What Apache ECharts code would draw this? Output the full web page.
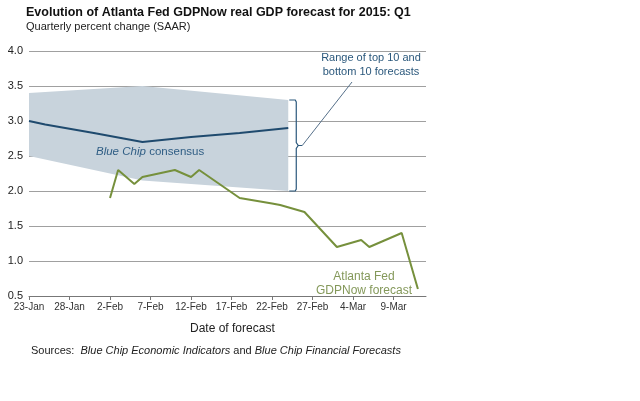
<!DOCTYPE html>
<html>
<head>
<meta charset="utf-8">
<script src="https://cdn.jsdelivr.net/npm/echarts@6/dist/echarts.min.js"></script>
<style>
html,body{margin:0;padding:0;background:#fff;}
#c{width:640px;height:401px;}
</style>
</head>
<body>
<div id="c"></div>
<script>
// Days counted from 23-Jan-2015
const xTickDays = [0, 5, 10, 15, 20, 25, 30, 35, 40, 45];
const yTicks = [0.5, 1.0, 1.5, 2.0, 2.5, 3.0, 3.5, 4.0];

const gdpNowDays   = [10, 11, 13, 14, 16, 18, 20, 21, 26, 30, 31, 34, 38, 41, 42, 46, 48];
const gdpNowValues = [1.9, 2.3, 2.1, 2.2, 2.25, 2.3, 2.2, 2.3, 1.9, 1.82, 1.8, 1.7, 1.2, 1.3, 1.2, 1.4, 0.6];

const consensusDays   = [0, 2, 8, 14, 20, 26, 32];
const consensusValues = [3.0, 2.95, 2.83, 2.70, 2.77, 2.83, 2.90];

const bandDays = [0, 14, 32];
const bandHigh = [3.4, 3.5, 3.3];
const bandLow  = [2.5, 2.15, 2.0];

const months = ['Jan','Feb','Mar','Apr','May','Jun','Jul','Aug','Sep','Oct','Nov','Dec'];
function dayLabel(v){
  const d = new Date(Date.UTC(2015,0,23) + v*86400000);
  return d.getUTCDate() + '-' + months[d.getUTCMonth()];
}

const FONT = 'Liberation Sans, Arial, sans-serif';
const chart = echarts.init(document.getElementById('c'), null, {renderer:'canvas'});

const bandPoly = bandDays.map((d,i)=>[d,bandHigh[i]]).concat(bandDays.map((d,i)=>[d,bandLow[i]]).reverse());

chart.setOption({
  animation:false,
  backgroundColor:'#fff',
  textStyle:{fontFamily:FONT},
  grid:{left:29, right:214, top:51, bottom:105},
  xAxis:{
    type:'value', min:0, max:49, interval:5,
    axisLine:{show:true, lineStyle:{color:'#777', width:1}},
    axisTick:{show:true, length:4, lineStyle:{color:'#777'}},
    splitLine:{show:false},
    axisLabel:{formatter:dayLabel, color:'#333', fontSize:10, margin:6, fontFamily:FONT,
      showMaxLabel:false}
  },
  yAxis:{
    type:'value', min:0.5, max:4.0, interval:0.5,
    axisLine:{show:false}, axisTick:{show:false},
    splitLine:{lineStyle:{color:'#a0a0a0', width:1}},
    axisLabel:{formatter:v=>v.toFixed(1), color:'#222', fontSize:11, margin:6, fontFamily:FONT}
  },
  series:[
    {
      type:'custom', z:1, silent:true,
      data:[0],
      renderItem:function(params, api){
        const pts = bandPoly.map(p=>api.coord(p));
        return {type:'polygon', shape:{points:pts}, style:{fill:'#c8d3dc', stroke:null}};
      }
    },
    {
      type:'line', z:3, symbol:'none',
      data:consensusDays.map((d,i)=>[d,consensusValues[i]]),
      lineStyle:{color:'#1f4a6e', width:2}
    },
    {
      type:'line', z:3, symbol:'none',
      data:gdpNowDays.map((d,i)=>[d,gdpNowValues[i]]),
      lineStyle:{color:'#76903c', width:2}
    }
  ]
});

// Annotations positioned relative to the data scale
const last = bandDays.length-1;
const pTop = chart.convertToPixel({gridIndex:0}, [bandDays[last], bandHigh[last]]);
const pBot = chart.convertToPixel({gridIndex:0}, [bandDays[last], bandLow[last]]);
const bx = pTop[0] + 8;
const midY = (pTop[1] + pBot[1]) / 2;
const tipX = bx + 6;

chart.setOption({
  graphic:[
    {type:'text', left:26, top:6, style:{text:'Evolution of Atlanta Fed GDPNow real GDP forecast for 2015: Q1', font:'bold 12.5px '+FONT, fill:'#111'}},
    {type:'text', left:26, top:21, style:{text:'Quarterly percent change (SAAR)', font:'11px '+FONT, fill:'#222'}},
    {type:'polyline', z:10, shape:{points:[[pTop[0]+1,pTop[1]],[bx-1,pTop[1]],[bx,pTop[1]+2],[bx,midY-3],[bx+2,midY],[tipX,midY]]}, style:{stroke:'#2b587c', lineWidth:1.2, fill:null}},
    {type:'polyline', z:10, shape:{points:[[bx+2,midY],[bx,midY+3],[bx,pBot[1]-2],[bx-1,pBot[1]],[pTop[0]+1,pBot[1]]]}, style:{stroke:'#2b587c', lineWidth:1.2, fill:null}},
    {type:'line', z:10, shape:{x1:tipX, y1:midY, x2:352, y2:82}, style:{stroke:'#56708a', lineWidth:1}},
    {type:'text', z:10, x:371, y:51, style:{text:'Range of top 10 and\nbottom 10 forecasts', font:'11px '+FONT, fill:'#2b587c', align:'center', lineHeight:14}},
    {type:'text', z:10, x:96, y:146, style:{text:'{i|Blue Chip} {n|consensus}', rich:{i:{font:'italic 11.5px '+FONT, fill:'#2f5d84'}, n:{font:'11.5px '+FONT, fill:'#2f5d84'}}}},
    {type:'text', z:10, x:364, y:270, style:{text:'Atlanta Fed\nGDPNow forecast', font:'12px '+FONT, fill:'#84985a', align:'center', lineHeight:14}},
    {type:'text', left:190, top:323, style:{text:'Date of forecast', font:'12px '+FONT, fill:'#222'}},
    {type:'text', left:31, top:345, style:{text:'{n|Sources:  }{i|Blue Chip Economic Indicators}{n| and }{i|Blue Chip Financial Forecasts}', rich:{n:{font:'11px '+FONT, fill:'#222'}, i:{font:'italic 11px '+FONT, fill:'#222'}}}}
  ]
});
</script>
</body>
</html>
